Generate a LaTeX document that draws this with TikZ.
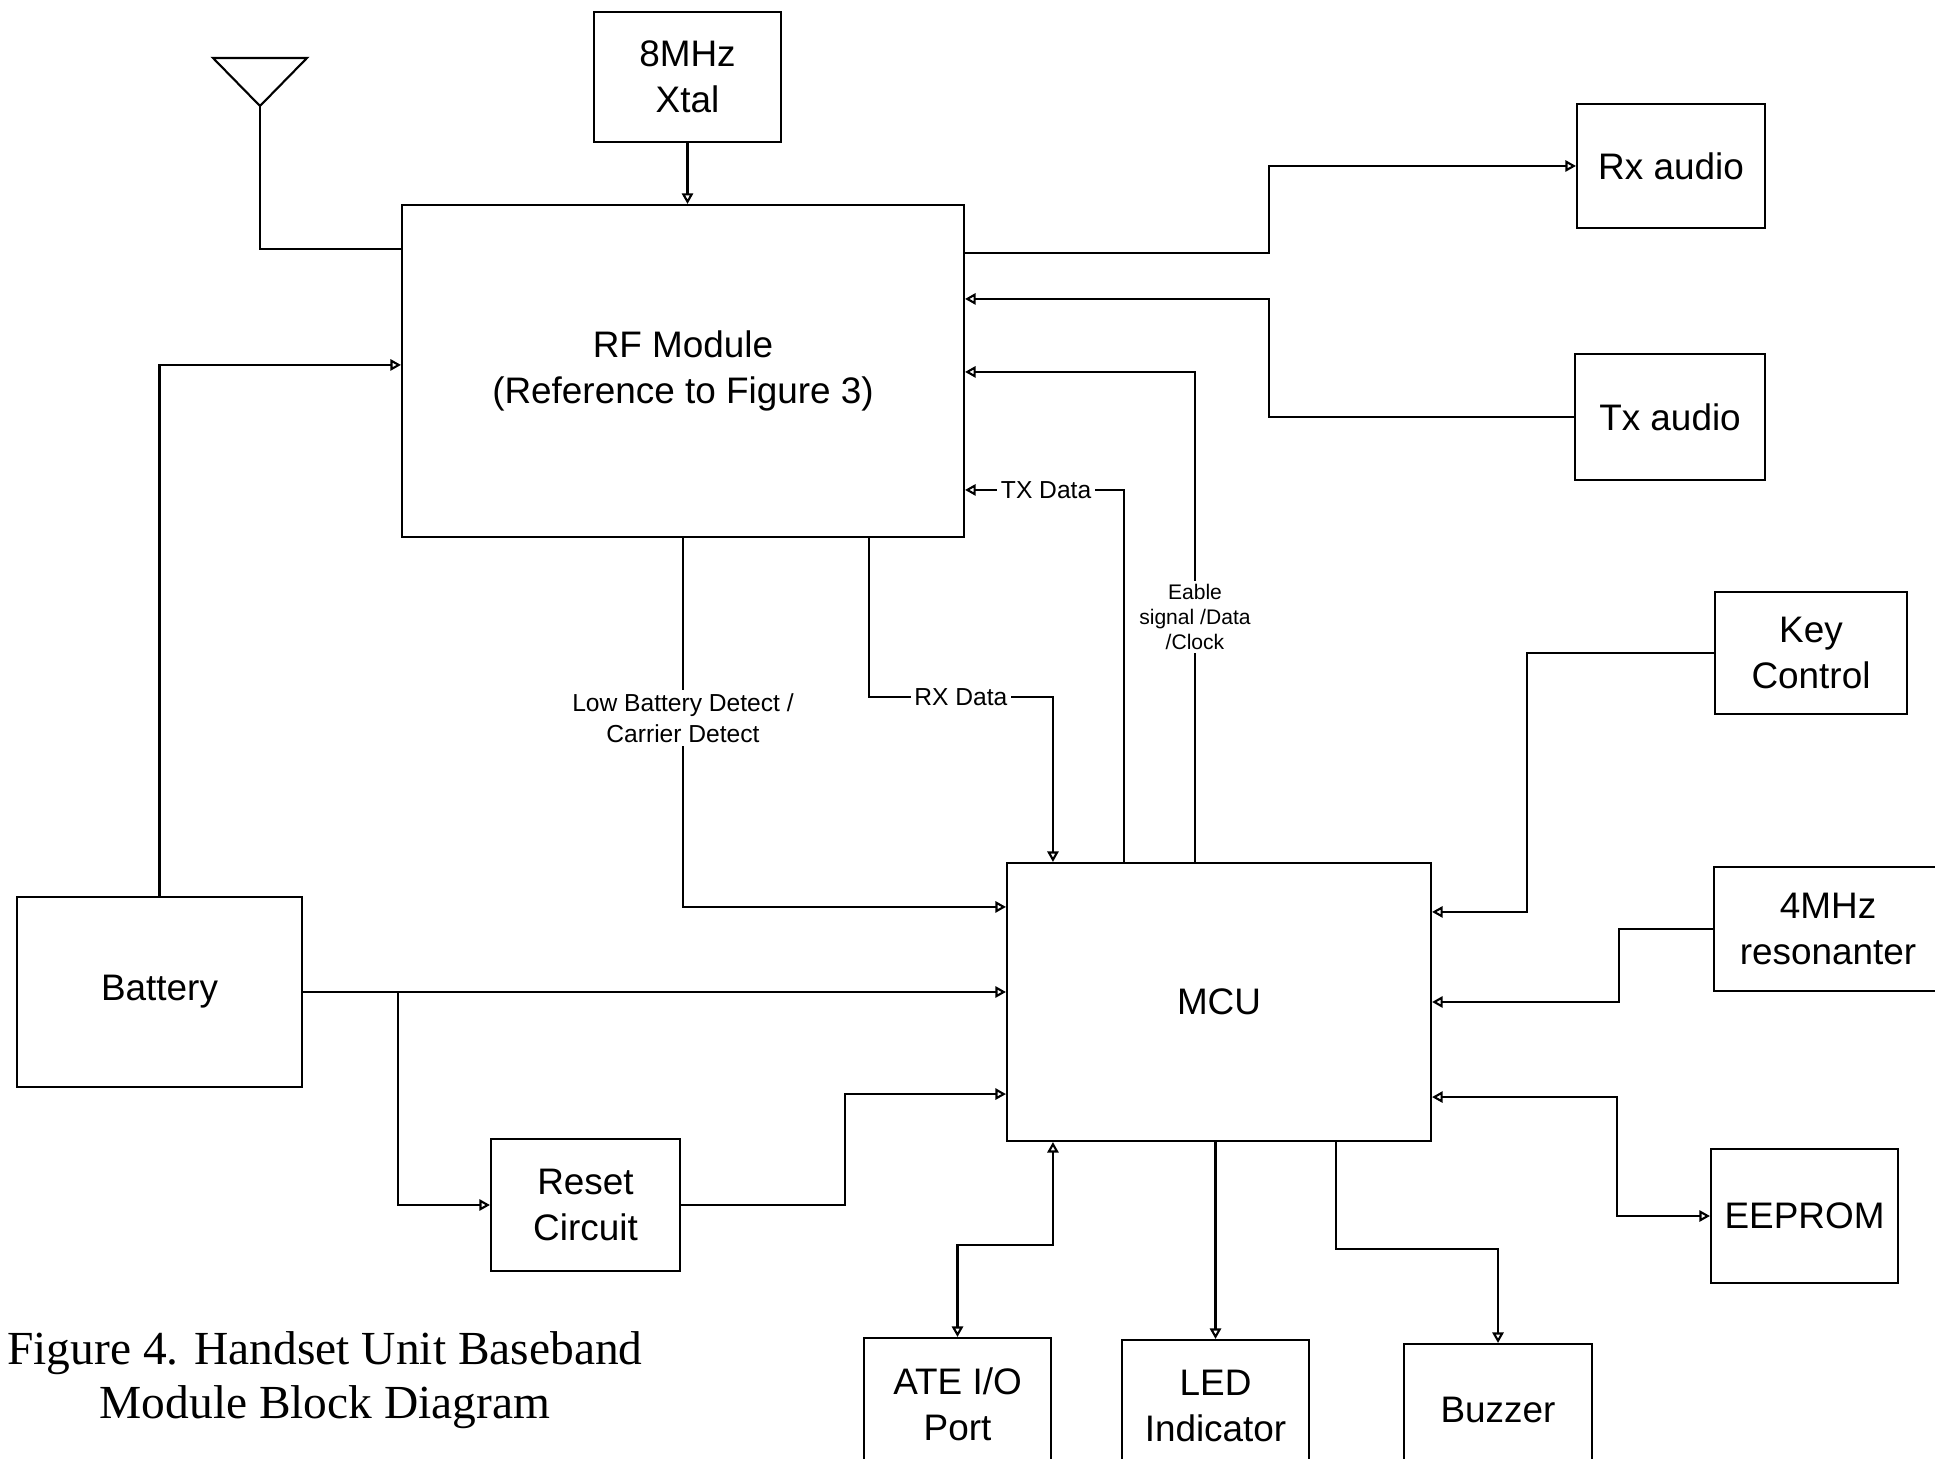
\documentclass[tikz,border=0pt]{standalone}
\usepackage{fontspec}
\setmainfont{Liberation Sans}
\newfontfamily\capfont{Liberation Serif}
\usetikzlibrary{arrows.meta}

\begin{document}
\begin{tikzpicture}[
        >={Triangle[open,length=3pt,width=3.2pt]},
        block/.style={rectangle, draw, semithick, align=center, font=\fontsize{10.5}{13}\selectfont},
        link/.style={semithick},
        sig/.style={fill=white, inner sep=1pt, align=center, font=\fontsize{7}{8.8}\selectfont},
        smallsig/.style={sig, font=\fontsize{6}{7}\selectfont},
    ]
        \useasboundingbox (0,0) rectangle (19.35,-14.59);

        % Antenna
        \draw[link] (2.13,-0.58) -- (3.07,-0.58) -- (2.60,-1.06) -- cycle;
        \coordinate (ant) at (2.60,-1.06);

        % Blocks
        \node[block, minimum width=1.87cm, minimum height=1.30cm] (xtal) at (6.875,-0.77) {8MHz\\Xtal};
        \node[block, minimum width=5.62cm, minimum height=3.32cm] (rf) at (6.83,-3.71) {RF Module\\(Reference to Figure 3)};
        \node[block, minimum width=1.88cm, minimum height=1.24cm] (rx) at (16.71,-1.66) {Rx audio};
        \node[block, minimum width=1.90cm, minimum height=1.26cm] (tx) at (16.70,-4.17) {Tx audio};
        \node[block, minimum width=1.92cm, minimum height=1.22cm] (key) at (18.11,-6.53) {Key\\Control};
        \node[block, minimum width=2.28cm, minimum height=1.24cm] (osc) at (18.28,-9.29) {4MHz\\resonanter};
        \node[block, minimum width=1.87cm, minimum height=1.34cm] (eeprom) at (18.045,-12.16) {EEPROM};
        \node[block, minimum width=4.24cm, minimum height=2.78cm] (mcu) at (12.19,-10.02) {MCU};
        \node[block, minimum width=2.85cm, minimum height=1.90cm] (bat) at (1.595,-9.92) {Battery};
        \node[block, minimum width=1.89cm, minimum height=1.32cm] (reset) at (5.855,-12.05) {Reset\\Circuit};
        \node[block, minimum width=1.87cm, minimum height=1.32cm] (ate) at (9.575,-14.04) {ATE I/O\\Port};
        \node[block, minimum width=1.87cm, minimum height=1.32cm] (led) at (12.155,-14.06) {LED\\Indicator};
        \node[block, minimum width=1.88cm, minimum height=1.32cm] (buzzer) at (14.98,-14.10) {Buzzer};

        % Caption
        \node[align=center, font=\capfont\fontsize{13.5}{15.5}\selectfont] (cap) at (3.25,-13.80) {Figure 4. Handset Unit Baseband\\Module Block Diagram};

        % RF side
        \draw[link] (ant) |- ([yshift=-0.45cm]rf.north west);
        \draw[link,->] (xtal.south) -- (xtal.south |- rf.north);
        \draw[link,->] ([yshift=-0.49cm]rf.north east) -| ([xshift=-3.07cm]rx.west) -- (rx.west);
        \draw[link,->] (tx.west) -- ([xshift=-3.05cm]tx.west) |- ([yshift=-0.95cm]rf.north east);

        % RF <-> MCU
        \draw[link,->] ([xshift=1.89cm]mcu.north west) |- node[pos=0.25, smallsig] {Eable\\signal /Data\\/Clock} ([yshift=-1.68cm]rf.north east);
        \draw[link,->] ([xshift=1.18cm]mcu.north west) |- node[pos=0.745, sig] {TX Data} ([yshift=-2.86cm]rf.north east);
        \draw[link,->] ([xshift=4.68cm]rf.south west) |- node[pos=0.75, sig] {RX Data} ([xshift=0.47cm,yshift=1.65cm]mcu.north west) -- ([xshift=0.47cm]mcu.north west);
        \draw[link,->] (rf.south) |- node[pos=0.244, sig] {Low Battery Detect /\\Carrier Detect} ([yshift=-0.45cm]mcu.north west);

        % Battery and reset
        \draw[link,->] (bat.north) |- ([yshift=-1.61cm]rf.north west);
        \draw[link,->] (bat.east) -- (bat.east -| mcu.west);
        \draw[link,->] ([xshift=0.95cm]bat.east) |- (reset.west);
        \draw[link,->] (reset.east) -- ([xshift=1.64cm]reset.east) |- ([yshift=0.48cm]mcu.south west);

        % Right side
        \draw[link,->] (key.west) -- ([xshift=-1.87cm]key.west) |- ([yshift=-0.50cm]mcu.north east);
        \draw[link,->] (osc.west) -- ([xshift=-0.94cm]osc.west) |- (mcu.east);
        \draw[link,<->] ([yshift=0.45cm]mcu.south east) -| ([xshift=-0.93cm]eeprom.west) -- (eeprom.west);

        % Bottom
        \draw[link,<->] ([xshift=0.47cm]mcu.south west) |- ([yshift=0.92cm]ate.north) -- (ate.north);
        \draw[link,->] (led.north |- mcu.south) -- (led.north);
        \draw[link,->] ([xshift=-0.96cm]mcu.south east) |- ([yshift=0.94cm]buzzer.north) -- (buzzer.north);

    \end{tikzpicture}
\end{document}
